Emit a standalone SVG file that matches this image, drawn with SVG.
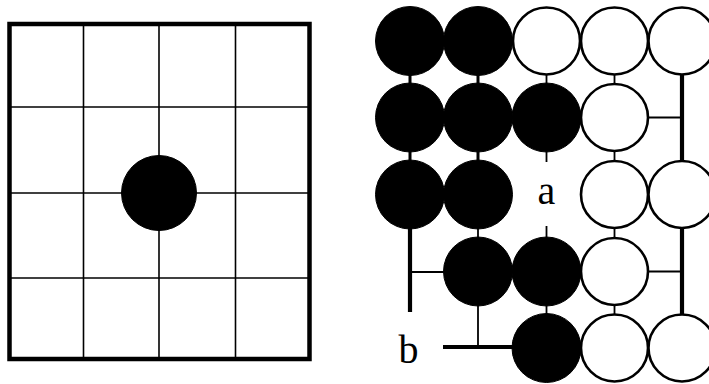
<svg xmlns="http://www.w3.org/2000/svg" width="709" height="384" viewBox="0 0 709 384">
<style>
.bg{fill:#fff}
.frame{fill:none;stroke:#000;stroke-width:4.5}
.grid{stroke:#000;stroke-width:1.6;fill:none}
.b{fill:#000;stroke:#000;stroke-width:1}
.w{fill:#fff;stroke:#000;stroke-width:2.6}
.thin{stroke:#000;stroke-width:1.8;fill:none}
.mid{stroke:#000;stroke-width:3;fill:none}
.thick{stroke:#000;stroke-width:4.2;fill:none}
.lbl{font-family:"Liberation Serif","DejaVu Serif",serif;font-size:40px;fill:#000;text-anchor:middle}
</style>
<rect class="bg" x="0" y="0" width="709" height="384"/>
<g id="left-board">
  <rect class="frame" x="9.5" y="24" width="300" height="335"/>
  <line class="grid" x1="83.5" y1="24" x2="83.5" y2="359"/>
  <line class="grid" x1="159" y1="24" x2="159" y2="359"/>
  <line class="grid" x1="235.5" y1="24" x2="235.5" y2="359"/>
  <line class="grid" x1="9.5" y1="107" x2="309.5" y2="107"/>
  <line class="grid" x1="9.5" y1="193" x2="309.5" y2="193"/>
  <line class="grid" x1="9.5" y1="278" x2="309.5" y2="278"/>
</g>
<g id="left-stone"><circle class="b" cx="159" cy="193" r="37.5"/></g>
<g id="connectors">
  <line class="mid" x1="410" y1="74" x2="410" y2="85"/>
  <line class="mid" x1="478" y1="74" x2="478" y2="85"/>
  <line class="thin" x1="546.5" y1="74" x2="546.5" y2="85"/>
  <line class="thin" x1="614.5" y1="74" x2="614.5" y2="85"/>
  <line class="thick" x1="682" y1="74" x2="682" y2="162"/>
  <line class="thin" x1="647" y1="117.5" x2="682" y2="117.5"/>
  <line class="mid" x1="410" y1="150" x2="410" y2="162"/>
  <line class="mid" x1="478" y1="150" x2="478" y2="162"/>
  <line class="thin" x1="546.5" y1="150" x2="546.5" y2="162"/>
  <line class="thin" x1="614.5" y1="150" x2="614.5" y2="162"/>
  <line class="thick" x1="410" y1="227" x2="410" y2="312"/>
  <line class="thin" x1="410" y1="272" x2="446" y2="272"/>
  <line class="thin" x1="478" y1="227" x2="478" y2="239"/>
  <line class="thin" x1="546.5" y1="226" x2="546.5" y2="239"/>
  <line class="thin" x1="614.5" y1="227" x2="614.5" y2="239"/>
  <line class="thick" x1="682" y1="227" x2="682" y2="316"/>
  <line class="thin" x1="647" y1="271.5" x2="682" y2="271.5"/>
  <line class="thin" x1="478" y1="304" x2="478" y2="347"/>
  <line class="thick" x1="443" y1="347" x2="514" y2="347"/>
  <line class="thin" x1="546.5" y1="304" x2="546.5" y2="316"/>
  <line class="thin" x1="614.5" y1="304" x2="614.5" y2="316"/>
</g>
<g id="r1c1"><circle class="b" cx="410" cy="41" r="34.5"/></g>
<g id="r1c2"><circle class="b" cx="478" cy="41" r="34.5"/></g>
<g id="r1c3"><circle class="w" cx="546.5" cy="41" r="33.5"/></g>
<g id="r1c4"><circle class="w" cx="614.5" cy="41" r="33.5"/></g>
<g id="r1c5"><circle class="w" cx="682" cy="41" r="33.5"/></g>
<g id="r2c1"><circle class="b" cx="410" cy="117.5" r="34.5"/></g>
<g id="r2c2"><circle class="b" cx="478" cy="117.5" r="34.5"/></g>
<g id="r2c3"><circle class="b" cx="546.5" cy="117.5" r="34.5"/></g>
<g id="r2c4"><circle class="w" cx="614.5" cy="117.5" r="33.5"/></g>
<g id="r3c1"><circle class="b" cx="410" cy="194.5" r="34.5"/></g>
<g id="r3c2"><circle class="b" cx="478" cy="194.5" r="34.5"/></g>
<g id="r3c4"><circle class="w" cx="614.5" cy="194.5" r="33.5"/></g>
<g id="r3c5"><circle class="w" cx="682" cy="194.5" r="33.5"/></g>
<g id="r4c2"><circle class="b" cx="478" cy="271.5" r="34.5"/></g>
<g id="r4c3"><circle class="b" cx="546.5" cy="271.5" r="34.5"/></g>
<g id="r4c4"><circle class="w" cx="614.5" cy="271.5" r="33.5"/></g>
<g id="r5c3"><circle class="b" cx="546.5" cy="348" r="34.5"/></g>
<g id="r5c4"><circle class="w" cx="614.5" cy="348" r="33.5"/></g>
<g id="r5c5"><circle class="w" cx="682" cy="348" r="33.5"/></g>
<g id="label-a"><text class="lbl" x="546.5" y="204">a</text></g>
<g id="label-b"><text class="lbl" x="408.5" y="363">b</text></g>
</svg>
